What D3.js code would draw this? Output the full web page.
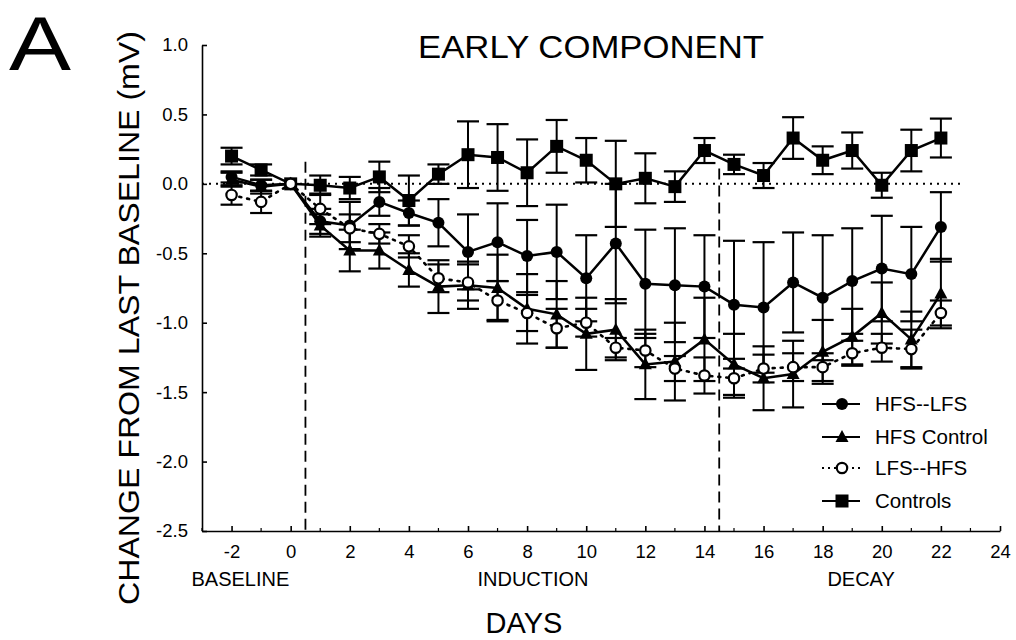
<!DOCTYPE html>
<html>
<head>
<meta charset="utf-8">
<script src="https://cdn.jsdelivr.net/npm/d3@7"></script>
<style>
  html, body { margin: 0; padding: 0; background: #fff; }
  svg { display: block; }
  text { font-family: "Liberation Sans", Arial, sans-serif; fill: #000; }
</style>
</head>
<body>
<svg id="chart" width="1016" height="640"></svg>
<script>
// ---- Data ----
const days = [-2, -1, 0, 1, 2, 3, 4, 5, 6, 7, 8, 9, 10, 11, 12, 13, 14, 15, 16, 17, 18, 19, 20, 21, 22];

const hfsLfs      = [0.05, -0.01, 0, -0.27, -0.30, -0.13, -0.21, -0.28, -0.49, -0.42, -0.52, -0.49, -0.68, -0.43, -0.72, -0.73, -0.74, -0.87, -0.89, -0.71, -0.82, -0.70, -0.61, -0.65, -0.31];
const hfsLfsErr   = [0.04, 0.04, 0, 0.09, 0.17, 0.10, 0.09, 0.17, 0.27, 0.28, 0.26, 0.34, 0.31, 0.43, 0.39, 0.41, 0.37, 0.46, 0.47, 0.36, 0.45, 0.38, 0.38, 0.34, 0.25];

const hfsControl    = [0.03, -0.02, 0, -0.30, -0.48, -0.48, -0.62, -0.74, -0.73, -0.75, -0.90, -0.94, -1.08, -1.05, -1.30, -1.28, -1.12, -1.30, -1.40, -1.37, -1.21, -1.10, -0.93, -1.12, -0.79];
const hfsControlErr = [0.05, 0.05, 0, 0.08, 0.15, 0.13, 0.12, 0.19, 0.17, 0.24, 0.25, 0.24, 0.26, 0.22, 0.25, 0.28, 0.30, 0.22, 0.23, 0.24, 0.23, 0.20, 0.22, 0.20, 0.25];

const lfsHfs      = [-0.08, -0.13, 0, -0.18, -0.32, -0.36, -0.45, -0.68, -0.71, -0.84, -0.93, -1.04, -1.00, -1.18, -1.20, -1.33, -1.38, -1.40, -1.33, -1.32, -1.32, -1.22, -1.18, -1.19, -0.93];
const lfsHfsErr   = [0.07, 0.08, 0, 0.11, 0.10, 0.07, 0.08, 0.10, 0.13, 0.14, 0.13, 0.14, 0.10, 0.07, 0.12, 0.09, 0.13, 0.14, 0.10, 0.10, 0.10, 0.09, 0.10, 0.14, 0.09];

const controls    = [0.20, 0.10, 0, -0.01, -0.03, 0.05, -0.12, 0.07, 0.21, 0.19, 0.08, 0.27, 0.17, 0.00, 0.04, -0.02, 0.24, 0.14, 0.06, 0.33, 0.17, 0.24, -0.01, 0.24, 0.33];
const controlsErr = [0.06, 0.04, 0, 0.07, 0.08, 0.11, 0.18, 0.07, 0.24, 0.24, 0.24, 0.19, 0.16, 0.31, 0.18, 0.11, 0.09, 0.07, 0.09, 0.15, 0.10, 0.13, 0.09, 0.15, 0.14];

const xTicks = [-2, 0, 2, 4, 6, 8, 10, 12, 14, 16, 18, 20, 22, 24];
const yTicks = [1.0, 0.5, 0.0, -0.5, -1.0, -1.5, -2.0, -2.5];
const phaseLabels = ["BASELINE", "INDUCTION", "DECAY"];
const phaseCenters = [-1.7, 8.2, 19.3];
const phaseBoundaries = [0.5, 14.5];
const seriesNames = ["HFS--LFS", "HFS Control", "LFS--HFS", "Controls"];

// ---- Chart ----
const svg = d3.select("#chart");
const x = d3.scaleLinear().domain([-3, 24]).range([202, 1000]);
const y = d3.scaleLinear().domain([-2.5, 1]).range([531, 45]);

// Panel letter and titles
svg.append("text").attr("x", 9).attr("y", 70).attr("font-size", 76)
  .attr("textLength", 62).attr("lengthAdjust", "spacingAndGlyphs").text("A");
svg.append("text").attr("x", 591).attr("y", 58).attr("text-anchor", "middle")
  .attr("font-size", 32).attr("textLength", 346).attr("lengthAdjust", "spacingAndGlyphs")
  .text("EARLY COMPONENT");
svg.append("text")
  .attr("transform", "translate(139,318) rotate(-90)")
  .attr("text-anchor", "middle").attr("font-size", 30)
  .attr("textLength", 574).attr("lengthAdjust", "spacingAndGlyphs")
  .text("CHANGE FROM LAST BASELINE (mV)");
svg.append("text").attr("x", 524).attr("y", 633).attr("text-anchor", "middle")
  .attr("font-size", 29).text("DAYS");

// Axes
const fmtY = d => d.toFixed(1);
const yAxis = d3.axisLeft(y).tickValues(yTicks).tickFormat(fmtY).tickSizeInner(-5).tickSizeOuter(0).tickPadding(14);
const gy = svg.append("g").attr("transform", `translate(${x(-3)},0)`).call(yAxis);
gy.selectAll("text").attr("font-size", 18.5).attr("font-family", "Liberation Sans, Arial, sans-serif");
gy.selectAll("path,line").attr("stroke", "#000").attr("stroke-width", 1.6);

const xAxis = d3.axisBottom(x).tickValues(xTicks).tickFormat(d => String(d)).tickSizeInner(-5).tickSizeOuter(0).tickPadding(14);
const gx = svg.append("g").attr("transform", `translate(0,${y(-2.5)})`).call(xAxis);
gx.selectAll("text").attr("font-size", 18.5).attr("font-family", "Liberation Sans, Arial, sans-serif");
gx.selectAll("path,line").attr("stroke", "#000").attr("stroke-width", 1.6);
// minor ticks on odd days
const minor = d3.range(-3, 24, 1).filter(d => !xTicks.includes(d));
svg.append("g").selectAll("line").data(minor).join("line")
  .attr("x1", d => x(d)).attr("x2", d => x(d))
  .attr("y1", y(-2.5)).attr("y2", y(-2.5) - 3)
  .attr("stroke", "#000").attr("stroke-width", 1.2);

// Phase labels
svg.append("g").selectAll("text").data(phaseLabels).join("text")
  .attr("x", (d, i) => x(phaseCenters[i])).attr("y", 586)
  .attr("text-anchor", "middle").attr("font-size", 20).text(d => d);

// Zero reference (dotted) and phase boundaries (dashed)
svg.append("line").attr("x1", x(-3)).attr("x2", x(22.7)).attr("y1", y(0)).attr("y2", y(0))
  .attr("stroke", "#000").attr("stroke-width", 2).attr("stroke-dasharray", "2,5");
svg.append("g").selectAll("line").data(phaseBoundaries).join("line")
  .attr("x1", d => x(d)).attr("x2", d => x(d))
  .attr("y1", (d, i) => y(i === 0 ? 0.16 : 0.11)).attr("y2", y(-2.5))
  .attr("stroke", "#000").attr("stroke-width", 1.8).attr("stroke-dasharray", "11,6");

// Series definitions
const series = [
  { name: seriesNames[3], vals: controls, err: controlsErr, marker: "square", dash: null },
  { name: seriesNames[0], vals: hfsLfs, err: hfsLfsErr, marker: "circle", dash: null },
  { name: seriesNames[1], vals: hfsControl, err: hfsControlErr, marker: "triangle", dash: null },
  { name: seriesNames[2], vals: lfsHfs, err: lfsHfsErr, marker: "open", dash: "2,6" }
];

const capHalf = 11;
series.forEach(s => {
  const g = svg.append("g");
  const pts = days.map((d, i) => ({ d, v: s.vals[i], e: s.err[i] })).filter(p => p.e > 0);
  g.selectAll("line.v").data(pts).join("line")
    .attr("x1", p => x(p.d)).attr("x2", p => x(p.d))
    .attr("y1", p => y(p.v + p.e)).attr("y2", p => y(p.v - p.e))
    .attr("stroke", "#000").attr("stroke-width", 2);
  [1, -1].forEach(sign => {
    g.selectAll("line.c" + sign).data(pts).join("line")
      .attr("x1", p => x(p.d) - capHalf).attr("x2", p => x(p.d) + capHalf)
      .attr("y1", p => y(p.v + sign * p.e)).attr("y2", p => y(p.v + sign * p.e))
      .attr("stroke", "#000").attr("stroke-width", 2.2);
  });
});

const line = d3.line().x((v, i) => x(days[i])).y(v => y(v));
series.forEach(s => {
  svg.append("path").attr("d", line(s.vals)).attr("fill", "none")
    .attr("stroke", "#000").attr("stroke-width", s.dash ? 2.6 : 2.5)
    .attr("stroke-dasharray", s.dash).attr("stroke-linecap", s.dash ? "round" : "butt");
});

function drawMarker(g, type, cx, cy) {
  if (type === "square") {
    g.append("rect").attr("x", cx - 6.5).attr("y", cy - 6.5).attr("width", 13).attr("height", 13).attr("fill", "#000");
  } else if (type === "circle") {
    g.append("circle").attr("cx", cx).attr("cy", cy).attr("r", 6).attr("fill", "#000");
  } else if (type === "triangle") {
    g.append("path").attr("d", `M${cx},${cy - 7}L${cx + 6.5},${cy + 5}L${cx - 6.5},${cy + 5}Z`).attr("fill", "#000");
  } else {
    g.append("circle").attr("cx", cx).attr("cy", cy).attr("r", 5.2).attr("fill", "#fff")
      .attr("stroke", "#000").attr("stroke-width", 2.2);
  }
}

series.forEach(s => {
  const g = svg.append("g");
  days.forEach((d, i) => drawMarker(g, s.marker, x(d), y(s.vals[i])));
});

// Legend
const legendOrder = [
  { name: seriesNames[0], marker: "circle", dash: null },
  { name: seriesNames[1], marker: "triangle", dash: null },
  { name: seriesNames[2], marker: "open", dash: "2,4" },
  { name: seriesNames[3], marker: "square", dash: null }
];
const legendY = [404, 437, 468, 501];
const lg = svg.append("g");
legendOrder.forEach((l, i) => {
  lg.append("line").attr("x1", 822).attr("x2", 860).attr("y1", legendY[i]).attr("y2", legendY[i])
    .attr("stroke", "#000").attr("stroke-width", l.dash ? 2 : 2.2).attr("stroke-dasharray", l.dash);
  drawMarker(lg, l.marker, 842, legendY[i]);
  lg.append("text").attr("x", 875).attr("y", legendY[i] + 7).attr("font-size", 20.5).text(l.name);
});
</script>
</body>
</html>
